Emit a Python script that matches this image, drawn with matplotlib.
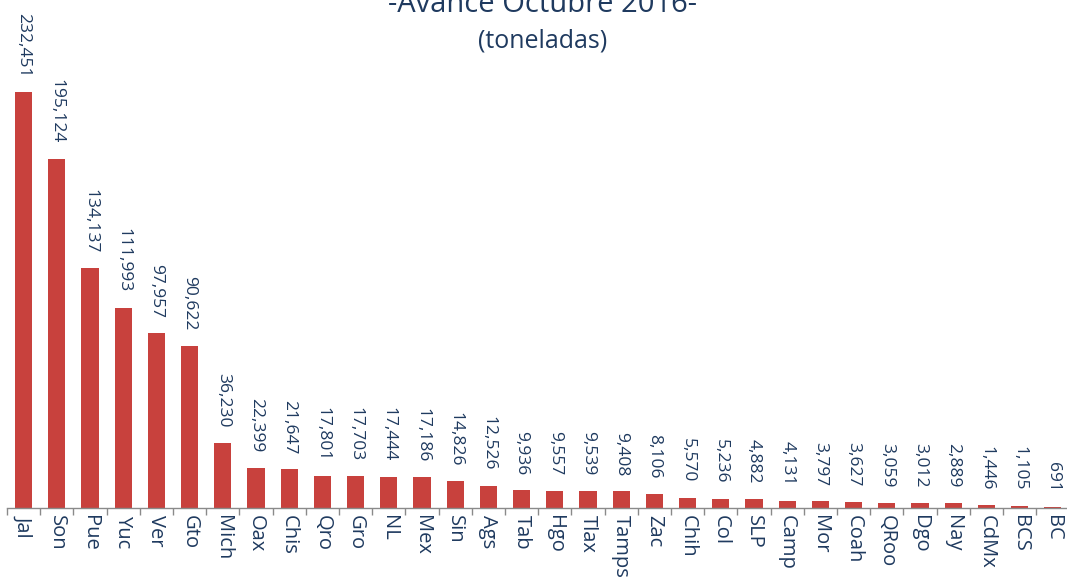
import matplotlib
matplotlib.use("Agg")
import matplotlib.pyplot as plt
from matplotlib.ticker import FixedLocator, NullLocator

plt.rcParams['font.family'] = ['Open Sans', 'DejaVu Sans']

estados = ["Jal", "Son", "Pue", "Yuc", "Ver", "Gto", "Mich", "Oax", "Chis", "Qro",
           "Gro", "NL", "Mex", "Sin", "Ags", "Tab", "Hgo", "Tlax", "Tamps", "Zac",
           "Chih", "Col", "SLP", "Camp", "Mor", "Coah", "QRoo", "Dgo", "Nay", "CdMx",
           "BCS", "BC"]
toneladas = [232451, 195124, 134137, 111993, 97957, 90622, 36230, 22399, 21647, 17801,
             17703, 17444, 17186, 14826, 12526, 9936, 9557, 9539, 9408, 8106,
             5570, 5236, 4882, 4131, 3797, 3627, 3059, 3012, 2889, 1446,
             1105, 691]
titulo = "-Avance Octubre 2016-"
subtitulo = "(toneladas)"

BAR = "#c8413d"
TEXT = "#1f3a5f"
AXIS = "#8a8a8a"

W, H = 1067, 584
fig = plt.figure(figsize=(W / 100, H / 100), dpi=100)
fig.patch.set_facecolor("white")

left = 7 / W
width = 32 * 33.2 / W
bottom = (H - 508) / H
height = 447 / H
ax = fig.add_axes([left, bottom, width, height])

x = list(range(len(estados)))
ax.bar(x, toneladas, width=0.52, color=BAR, zorder=2)
ax.set_xlim(-0.5, len(estados) - 0.5)
ax.set_ylim(0, 250000)

for s in ("top", "right", "left"):
    ax.spines[s].set_visible(False)
ax.spines["bottom"].set_color(AXIS)
ax.spines["bottom"].set_linewidth(1.0)
ax.yaxis.set_major_locator(NullLocator())

# category labels under each bar, boundary ticks between them
ax.set_xticks(x)
ax.set_xticklabels(estados, rotation=-90, fontsize=14.5, color=TEXT)
ax.tick_params(axis="x", which="major", length=0, pad=5)
ax.xaxis.set_minor_locator(FixedLocator([i - 0.5 for i in range(len(estados) + 1)]))
ax.tick_params(axis="x", which="minor", length=5, color=AXIS, width=1.0)

for xi, v in zip(x, toneladas):
    ax.annotate(f"{v:,}", xy=(xi, v), xytext=(0, 11), textcoords="offset points",
                rotation=-90, ha="center", va="bottom", fontsize=12.5,
                color=TEXT)

fig.text(543 / W, 1 - 12 / H, titulo, ha="center", va="baseline",
         fontsize=21, color=TEXT)
fig.text(543 / W, 1 - 41 / H, subtitulo, ha="center", va="center",
         fontsize=18, color=TEXT)

fig.savefig("out.png", dpi=100, facecolor="white")
